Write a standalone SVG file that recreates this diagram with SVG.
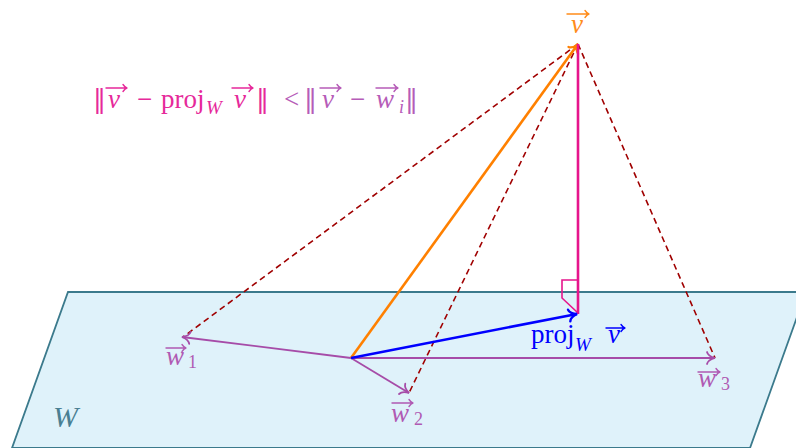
<svg xmlns="http://www.w3.org/2000/svg" width="796" height="448" viewBox="0 0 796 448">
<style>
text{font-family:"Liberation Serif","DejaVu Serif",serif;}
.it{font-style:italic;}
.nm{font-family:"DejaVu Serif",serif;}
.vec{fill:none;stroke-width:1.4;stroke-linecap:round;}
.dash{fill:none;stroke:#a00000;stroke-width:1.6;stroke-dasharray:6 4;}
.pur{fill:none;stroke:#a64ca8;stroke-width:1.8;}
</style>
<defs>
<marker id="mo" markerUnits="userSpaceOnUse" orient="auto" refX="0" refY="0" markerWidth="20" markerHeight="20" overflow="visible"><path d="M-8,-6 C-7,-2 -2,-0.5 0,0 C-2,0.5 -7,2 -8,6" fill="none" stroke="#ff8000" stroke-width="2.2" stroke-linecap="round"/></marker>
<marker id="mb" markerUnits="userSpaceOnUse" orient="auto" refX="0" refY="0" markerWidth="20" markerHeight="20" overflow="visible"><path d="M-8,-6 C-7,-2 -2,-0.5 0,0 C-2,0.5 -7,2 -8,6" fill="none" stroke="#0000ff" stroke-width="2.4" stroke-linecap="round"/></marker>
<marker id="mp" markerUnits="userSpaceOnUse" orient="auto" refX="0" refY="0" markerWidth="20" markerHeight="20" overflow="visible"><path d="M-8,-6 C-7,-2 -2,-0.5 0,0 C-2,0.5 -7,2 -8,6" fill="none" stroke="#a64ca8" stroke-width="1.8" stroke-linecap="round"/></marker>
</defs>
<g id="plane">
<polygon points="68,292 806,292 750,448 12,448" fill="#dff2fa" stroke="#3b7a8c" stroke-width="1.8"/>
<text x="53" y="427" class="it" font-size="30" fill="#4a7f92">W</text>
</g>
<g id="connectors">
<line class="dash" x1="578" y1="44" x2="183" y2="337"/>
<line class="dash" x1="578" y1="44" x2="409" y2="393"/>
<line class="dash" x1="578" y1="44" x2="715" y2="358"/>
<line class="pur" x1="351" y1="358" x2="182" y2="337" marker-end="url(#mp)"/>
<line class="pur" x1="351" y1="358" x2="409" y2="393" marker-end="url(#mp)"/>
<line class="pur" x1="351" y1="358" x2="715" y2="358" marker-end="url(#mp)"/>
<line x1="351" y1="358" x2="578" y2="44" stroke="#ff8000" stroke-width="2.6" marker-end="url(#mo)"/>
<line x1="578" y1="44" x2="578" y2="314" stroke="#e6158c" stroke-width="2.6"/>
<path d="M578,280 H562 V298 L578,313" fill="none" stroke="#e6158c" stroke-width="1.6"/>
<line x1="351" y1="358" x2="577" y2="314" stroke="#0000ff" stroke-width="2.6" marker-end="url(#mb)"/>
</g>
<g id="v-label">
<text x="571" y="33" class="it" font-size="27" fill="#ff8c1a">v</text>
<path class="vec" stroke="#ff8c1a" d="M567,14 H589 M585,10.5 Q587,13.5 589,14 Q587,14.5 585,17.5"/>
</g>
<g id="proj-label" fill="#0000ff">
<text x="531" y="343" font-size="27">proj</text>
<text x="575" y="351" class="it" font-size="19">W</text>
<text x="608" y="343" class="it" font-size="27">v</text>
<path class="vec" stroke="#0000ff" d="M606,328 H625 M621,324.5 Q623,327.5 625,328 Q623,328.5 621,331.5"/>
</g>
<g id="w1-label" fill="#b05ab3">
<text x="166" y="365" class="it" font-size="27">w</text>
<text x="188" y="368" font-size="18">1</text>
<path class="vec" stroke="#b05ab3" d="M166,348 H186 M182,344.5 Q184,347.5 186,348 Q184,348.5 182,351.5"/>
</g>
<g id="w2-label" fill="#b05ab3">
<text x="391" y="422" class="it" font-size="27">w</text>
<text x="414" y="425" font-size="18">2</text>
<path class="vec" stroke="#b05ab3" d="M392,403 H413 M409,399.5 Q411,402.5 413,403 Q411,403.5 409,406.5"/>
</g>
<g id="w3-label" fill="#b05ab3">
<text x="698" y="387" class="it" font-size="27">w</text>
<text x="721" y="390" font-size="18">3</text>
<path class="vec" stroke="#b05ab3" d="M698,372 H720 M716,368.5 Q718,371.5 720,372 Q718,372.5 716,375.5"/>
</g>
<g id="formula" font-size="27">
<g fill="#e6299a">
<text x="93" y="108" class="nm" font-size="26">‖</text>
<text x="108" y="108" class="it">v</text>
<path class="vec" stroke="#e6299a" d="M106,88 H127 M123,84.5 Q125,87.5 127,88 Q125,88.5 123,91.5"/>
<text x="137" y="108">−</text>
<text x="161" y="108">proj</text>
<text x="206" y="114" class="it" font-size="19">W</text>
<text x="234" y="108" class="it">v</text>
<path class="vec" stroke="#e6299a" d="M232,88 H253 M249,84.5 Q251,87.5 253,88 Q251,88.5 249,91.5"/>
<text x="256" y="108" class="nm" font-size="26">‖</text>
</g>
<g fill="#b65cb8">
<text x="284" y="108">&lt;</text>
<text x="304" y="108" class="nm" font-size="26">‖</text>
<text x="322" y="108" class="it">v</text>
<path class="vec" stroke="#b65cb8" d="M320,88 H341 M337,84.5 Q339,87.5 341,88 Q339,88.5 337,91.5"/>
<text x="350" y="108">−</text>
<text x="376" y="108" class="it">w</text>
<path class="vec" stroke="#b65cb8" d="M376,88 H398 M394,84.5 Q396,87.5 398,88 Q396,88.5 394,91.5"/>
<text x="399" y="113" class="it" font-size="18">i</text>
<text x="405" y="108" class="nm" font-size="26">‖</text>
</g>
</g>
</svg>
